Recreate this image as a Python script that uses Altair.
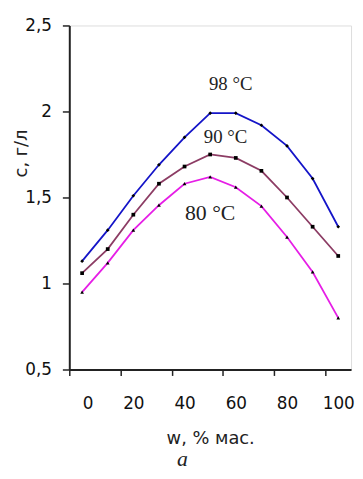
import altair as alt
import pandas as pd

w = [0, 10, 20, 30, 40, 50, 60, 70, 80, 90, 100]
c98 = [1.13, 1.31, 1.51, 1.69, 1.85, 1.99, 1.99, 1.92, 1.80, 1.61, 1.33]
c90 = [1.06, 1.20, 1.40, 1.58, 1.68, 1.75, 1.73, 1.655, 1.50, 1.33, 1.16]
c80 = [0.95, 1.12, 1.31, 1.455, 1.58, 1.62, 1.56, 1.45, 1.27, 1.067, 0.80]
series = ["98", "90", "80"]
colors = ["#1414c8", "#8c3c64", "#e61ee6"]
shapes = ["diamond", "square", "triangle-up"]

label_text = ["98 °C", "90 °C", "80 °C"]
label_x = [58, 56, 50]
label_y = [2.16, 1.85, 1.41]
label_size = [19, 19, 22]

rows = []
for s, vals in zip(series, [c98, c90, c80]):
    for x, v in zip(w, vals):
        rows.append({"w": x, "c": v, "s": s})
df = pd.DataFrame(rows)
lab = pd.DataFrame({"t": label_text, "x": label_x, "y": label_y, "fs": label_size})

xscale = alt.Scale(domain=[-5, 105], nice=False, zero=False)
yscale = alt.Scale(domain=[0.5, 2.5], nice=False, zero=False)

FONT = "DejaVu Sans"
xaxis = alt.Axis(
    values=list(range(-5, 106, 10)),
    labelExpr="(datum.value + 5) % 20 == 0 ? format(datum.value + 5, 'd') : ''",
    labelOffset=13,
    grid=False, tickSize=6, tickColor="#222", tickWidth=1.5,
    domainColor="#222", domainWidth=2,
    labelFont=FONT, labelFontSize=17, labelColor="#111", labelPadding=20,
    labelOverlap=False, labelBound=False,
    title="w, % мас.", titleFont=FONT, titleFontSize=18,
    titleFontWeight="normal", titleColor="#222", titlePadding=19,
)
yaxis = alt.Axis(
    values=[0.5, 1, 1.5, 2, 2.5],
    labelExpr="replace(toString(datum.value), '.', ',')",
    grid=False, tickSize=7, tickColor="#222", tickWidth=1.5,
    domainColor="#222", domainWidth=2,
    labelFont=FONT, labelFontSize=17, labelColor="#111", labelPadding=11,
    title="с, г/л", titleFont=FONT, titleFontSize=18,
    titleFontWeight="normal", titleColor="#222", titleX=-39, titleY=129,
)

base = alt.Chart(df)
lines = base.mark_line(strokeWidth=1.8).encode(
    x=alt.X("w:Q", scale=xscale, axis=xaxis),
    y=alt.Y("c:Q", scale=yscale, axis=yaxis),
    color=alt.Color("s:N", scale=alt.Scale(domain=series, range=colors), legend=None),
)
pts = base.mark_point(filled=True, color="black", opacity=1, size=14).encode(
    x=alt.X("w:Q", scale=xscale),
    y=alt.Y("c:Q", scale=yscale),
    shape=alt.Shape("s:N", scale=alt.Scale(domain=series, range=shapes), legend=None),
)
texts = alt.Chart(lab).mark_text(font="Liberation Serif", color="#222").encode(
    x=alt.X("x:Q", scale=xscale),
    y=alt.Y("y:Q", scale=yscale),
    text="t:N",
    size=alt.Size("fs:Q", scale=None, legend=None),
)

chart = alt.layer(lines, pts, texts).properties(
    width=285, height=348,
    autosize=alt.AutoSizeParams(type="none"),
    padding={"left": 62, "top": 15, "right": 4, "bottom": 100},
    title=alt.TitleParams(
        text="a", orient="bottom", anchor="middle", font="Liberation Serif",
        fontStyle="italic", fontSize=22, fontWeight="normal", color="#222",
        offset=2, dx=-28,
    ),
).configure_view(stroke=None).configure(background="white")

chart.save("out.html", embed_options={"renderer": "svg", "actions": False})
